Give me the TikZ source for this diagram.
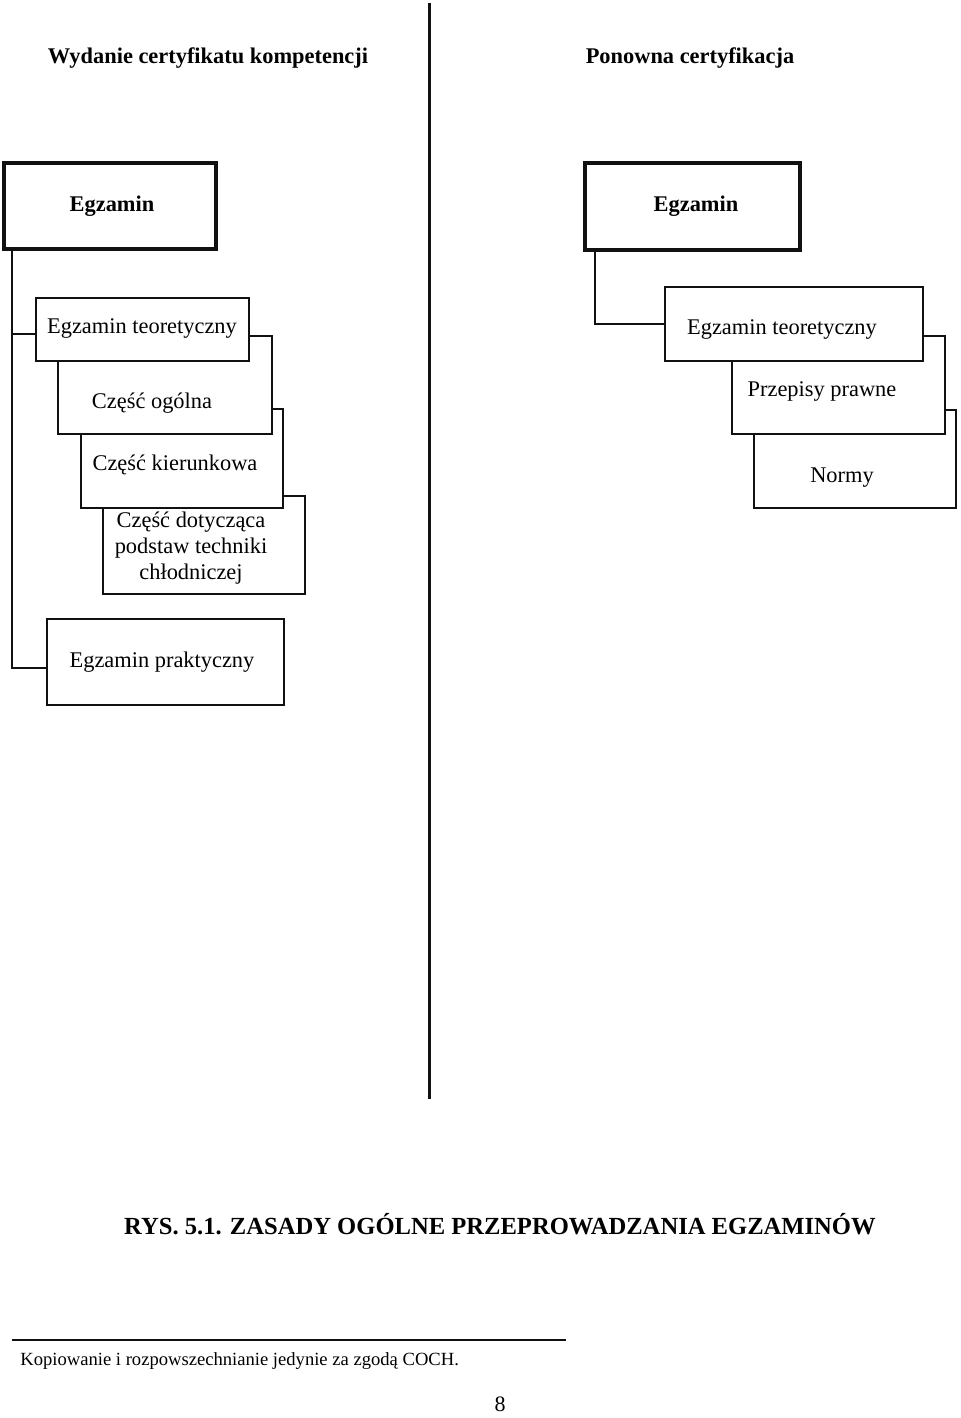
\documentclass[tikz,border=0pt]{standalone}
\usepackage{fontspec}
\setmainfont{Liberation Serif}
\usetikzlibrary{positioning}
\definecolor{ink}{HTML}{111111}
\tikzset{
  box/.style={draw=ink,fill=white,line width=1pt,inner sep=0pt},
  headbox/.style={box,line width=2pt},
  wire/.style={ink,line width=1pt},
  lbl/.style={font=\fontsize{11.2}{13}\selectfont,align=center,inner sep=0pt},
  blbl/.style={font=\fontsize{11.2}{13}\selectfont\bfseries,inner sep=0pt},
}

\begin{document}
\begin{tikzpicture}[x=0.5pt,y=-0.5pt]
  \useasboundingbox (0,0) rectangle (960,1418);
  % ---------- headings and divider ----------
  \node[blbl] (hwyd) at (208,58) {Wydanie certyfikatu kompetencji};
  \node[blbl] (hpon) at (690,58) {Ponowna certyfikacja};
  \draw[ink,line width=1.5pt] (429,3) -- (429,1099);
  % ---------- left: first certification ----------
  \node[headbox,minimum width=106pt,minimum height=43pt] (egzL) at (110,206) {};
  \node[blbl] (tegzL) at (112,206) {Egzamin};
  \node[box,minimum width=101pt,minimum height=49pt] (dotyczL) at (204,545) {};
  \node[box,minimum width=101pt,minimum height=49.5pt] (kierL) at (182,458.5) {};
  \node[box,minimum width=107pt,minimum height=49pt] (ogolL) at (165,385) {};
  \node[box,minimum width=106.5pt,minimum height=31.5pt] (teorL) at (142.5,329.5) {};
  \node[lbl] (tteorL) at (142,328) {Egzamin teoretyczny};
  \node[lbl] (togolL) at (152,403) {Część ogólna};
  \node[lbl] (tkierL) at (175,465) {Część kierunkowa};
  \node[lbl] (tdotyczL) at (191,548) {Część dotycząca\\podstaw techniki\\chłodniczej};
  \node[box,minimum width=118.5pt,minimum height=43pt] (prakL) at (165.5,662) {};
  \node[lbl] (tprakL) at (162,662) {Egzamin praktyczny};
  \coordinate (trunkL) at ([xshift=5pt]egzL.south west);
  \draw[wire] (trunkL) |- ([yshift=-2pt]teorL.west);
  \draw[wire] (trunkL) |- ([yshift=-3pt]prakL.west);
  % ---------- right: recertification ----------
  \node[headbox,minimum width=107.5pt,minimum height=43.5pt] (egzR) at (692.5,206.5) {};
  \node[blbl] (tegzR) at (696,206) {Egzamin};
  \node[box,minimum width=101pt,minimum height=49pt] (normR) at (855,459) {};
  \node[box,minimum width=106.5pt,minimum height=49pt] (przepR) at (838.5,385) {};
  \node[box,minimum width=129pt,minimum height=37pt] (teorR) at (794,324) {};
  \node[lbl] (tteorR) at (782,329) {Egzamin teoretyczny};
  \node[lbl] (tprzepR) at (822,391) {Przepisy prawne};
  \node[lbl] (tnormR) at (842,478) {Normy};
  \coordinate (trunkR) at ([xshift=6pt]egzR.south west);
  \draw[wire] (trunkR) |- (teorR.west);
  % ---------- caption and footer ----------
  \node[inner sep=0pt,font=\fontsize{12.3}{14}\selectfont\bfseries] (rys) at (500,1224)
     {RYS. 5.1. ZASADY OGÓLNE PRZEPROWADZANIA EGZAMINÓW};
  \draw[ink,line width=1.1pt] (12,1340) -- (566,1340);
  \node[inner sep=0pt,anchor=west,font=\fontsize{9.3}{11}\selectfont] (stopka) at (20,1361)
     {Kopiowanie i rozpowszechnianie jedynie za zgodą COCH.};
  \node[inner sep=0pt,font=\fontsize{11}{13}\selectfont] (strona) at (500,1404) {8};
\end{tikzpicture}
\end{document}
